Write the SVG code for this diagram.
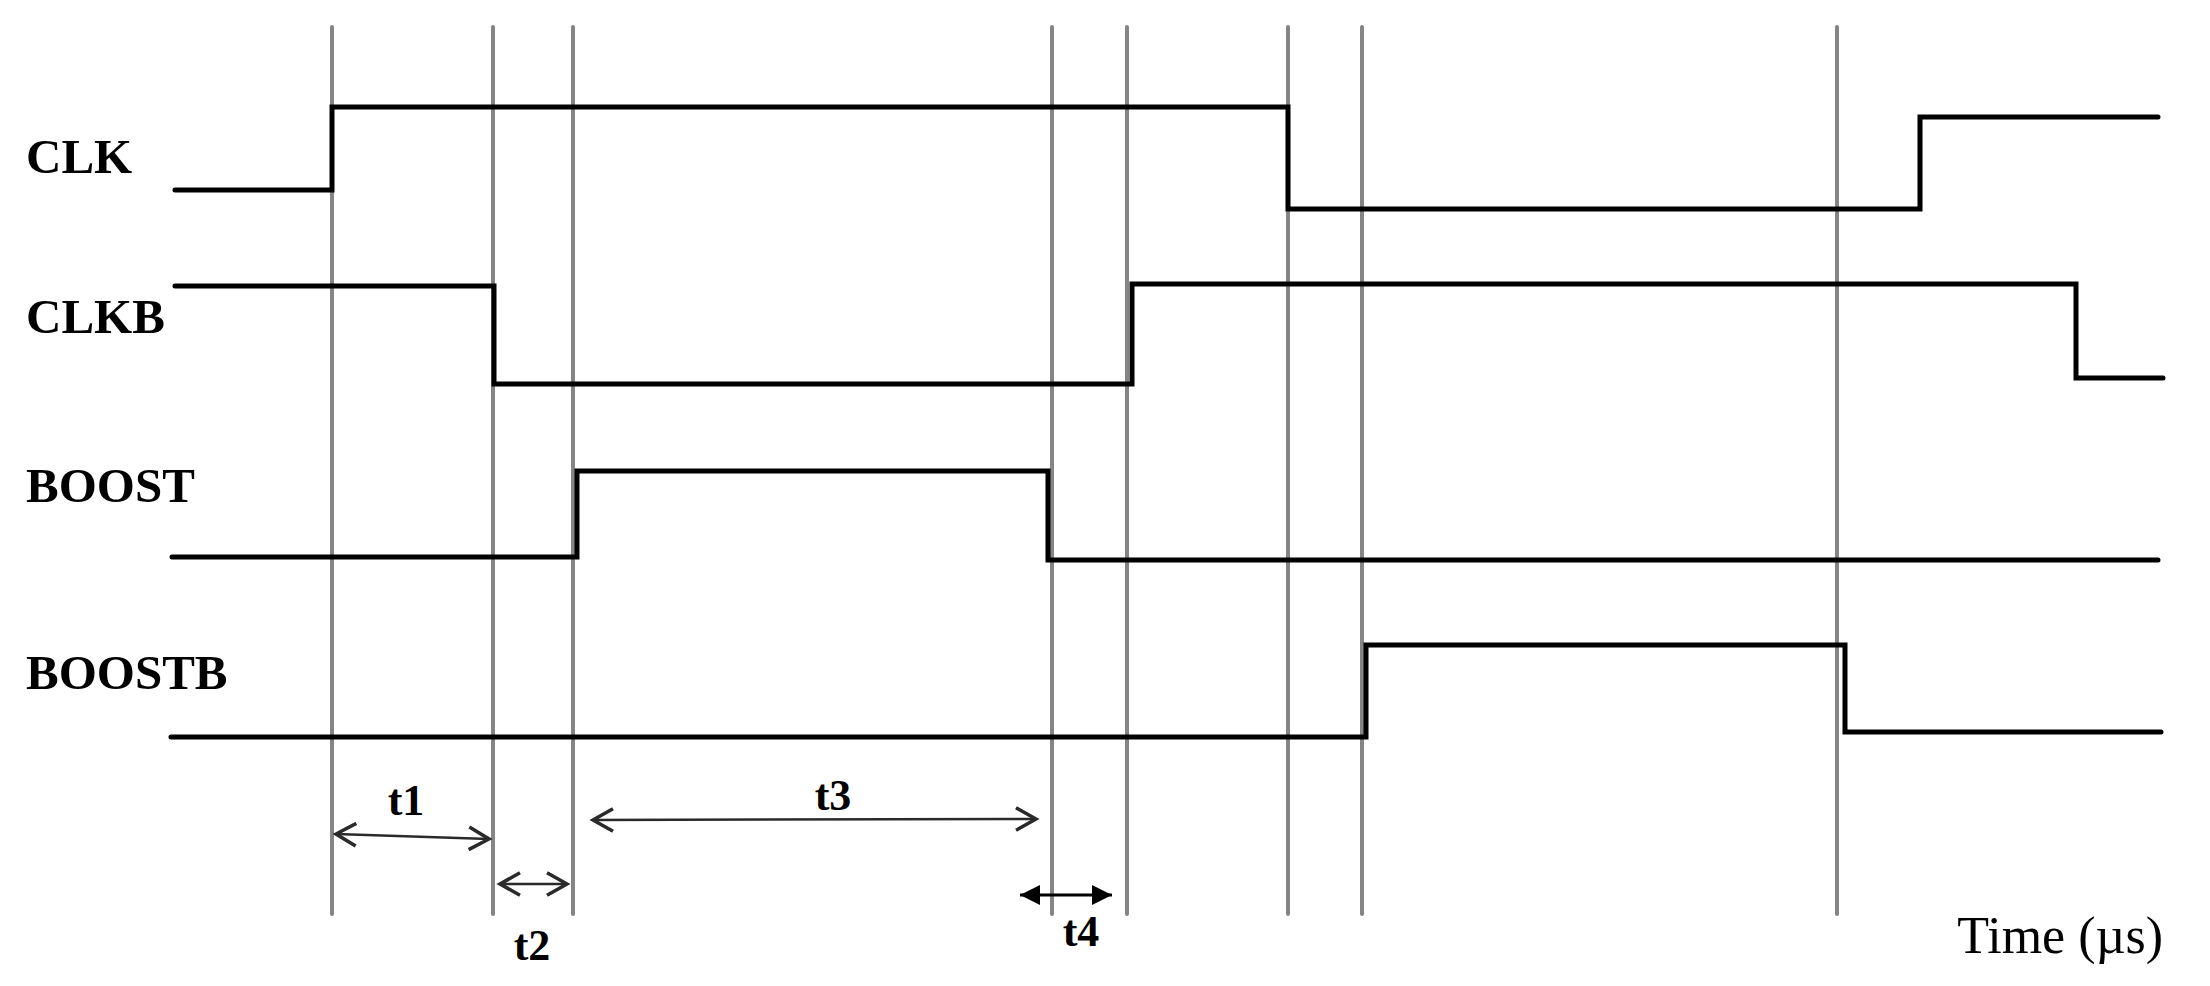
<svg xmlns="http://www.w3.org/2000/svg" width="2210" height="986" viewBox="0 0 2210 986">
<style>
.grid{stroke:#858585;stroke-width:4;stroke-linecap:round;fill:none}
.sig{stroke:#000;stroke-width:5;fill:none;stroke-linecap:round;stroke-linejoin:miter}
.lbl{font-family:"Liberation Serif","Times New Roman",serif;font-weight:bold;font-size:49px;fill:#000}
.tl{font-family:"Liberation Serif","Times New Roman",serif;font-weight:bold;font-size:44px;fill:#000;text-anchor:middle}
.dim{stroke:#2a2a2a;stroke-width:2.5;fill:none}
.dimb{stroke:#000;stroke-width:3;fill:none}
.axis{font-family:"Liberation Serif","Times New Roman",serif;font-size:52px;fill:#000;text-anchor:end}
</style>
<defs>
<marker id="open" markerUnits="userSpaceOnUse" markerWidth="30" markerHeight="30" viewBox="-20 -12 24 24" refX="0" refY="0" orient="auto-start-reverse">
<path d="M-16,-9 L0,0 L-16,9" fill="none" stroke="#2a2a2a" stroke-width="2.8" stroke-linejoin="miter"/>
</marker>
<marker id="solid" markerUnits="userSpaceOnUse" markerWidth="30" markerHeight="30" viewBox="-20 -12 24 24" refX="0" refY="0" orient="auto-start-reverse">
<path d="M-16,-8 L0,0 L-16,8 Z" fill="#000"/>
</marker>
</defs>
<rect width="2210" height="986" fill="#fff"/>
<g id="gridlines">
<line class="grid" x1="332" y1="27" x2="332" y2="914"/>
<line class="grid" x1="493" y1="27" x2="493" y2="914"/>
<line class="grid" x1="573" y1="27" x2="573" y2="914"/>
<line class="grid" x1="1052" y1="27" x2="1052" y2="914"/>
<line class="grid" x1="1127" y1="27" x2="1127" y2="914"/>
<line class="grid" x1="1288" y1="27" x2="1288" y2="914"/>
<line class="grid" x1="1362" y1="27" x2="1362" y2="914"/>
<line class="grid" x1="1837" y1="27" x2="1837" y2="914"/>
</g>
<g id="clk">
<text class="lbl" x="26" y="173">CLK</text>
<path class="sig" d="M175,190 H332 V107 H1288 V209 H1920 V117 H2158"/>
</g>
<g id="clkb">
<text class="lbl" x="26" y="333">CLKB</text>
<path class="sig" d="M175,286 H494 V384 H1132 V284 H2076 V378 H2163"/>
</g>
<g id="boost">
<text class="lbl" x="26" y="502">BOOST</text>
<path class="sig" d="M172,557 H577 V471 H1048 V560 H2158"/>
</g>
<g id="boostb">
<text class="lbl" x="26" y="689">BOOSTB</text>
<path class="sig" d="M171,737 H1366 V645 H1845 V732 H2161"/>
</g>
<g id="connectors">
<line class="dim" x1="336" y1="834" x2="489" y2="839" marker-start="url(#open)" marker-end="url(#open)"/>
<line class="dim" x1="500" y1="884" x2="567" y2="884" marker-start="url(#open)" marker-end="url(#open)"/>
<line class="dim" x1="593" y1="820" x2="1036" y2="819" marker-start="url(#open)" marker-end="url(#open)"/>
<line class="dimb" x1="1020" y1="895" x2="1112" y2="895" marker-start="url(#solid)" marker-end="url(#solid)"/>
</g>
<g id="labels">
<text class="tl" x="406" y="815">t1</text>
<text class="tl" x="532" y="960">t2</text>
<text class="tl" x="833" y="810">t3</text>
<text class="tl" x="1081" y="946">t4</text>
<text class="axis" x="2163" y="953">Time (µs)</text>
</g>
</svg>
